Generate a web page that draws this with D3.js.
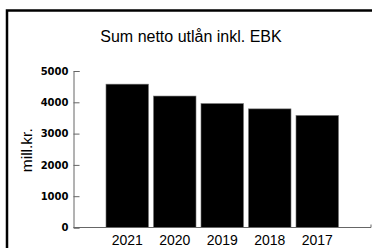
<!DOCTYPE html>
<html>
<head>
<meta charset="utf-8">
<script src="https://cdn.jsdelivr.net/npm/d3@7"></script>
<style>
  body { margin: 0; background: #fff; }
  svg { display: block; }
</style>
</head>
<body>
<div id="chart"></div>
<script>
const years = ["2021", "2020", "2019", "2018", "2017"];
const values = [4580, 4200, 3960, 3790, 3580];
const yTicks = [0, 1000, 2000, 3000, 4000, 5000];
const title = "Sum netto utlån inkl. EBK";
const yLabel = "mill.kr.";

(() => {
    const W = 372, H = 248;
    const plot = { left: 73.5, right: 371, top: 71, bottom: 227.5 };

    const svg = d3.select("#chart")
        .append("svg")
        .attr("width", W)
        .attr("height", H);

    // frame, runs off the right and bottom edges
    svg.append("rect")
        .attr("x", 7)
        .attr("y", 10.5)
        .attr("width", 380)
        .attr("height", 250)
        .attr("fill", "none")
        .attr("stroke", "#000")
        .attr("stroke-width", 2.5);

    svg.append("text")
        .attr("x", 191)
        .attr("y", 42)
        .attr("text-anchor", "middle")
        .style("font-family", "Liberation Sans, Arial, sans-serif")
        .style("font-size", "16px")
        .text(title);

    const x = d3.scaleBand()
        .domain(years)
        .range([101, 343.5])
        .padding(0.105);

    const y = d3.scaleLinear()
        .domain([0, 5000])
        .range([plot.bottom, plot.top]);

    // bars
    svg.append("g")
        .selectAll("rect")
        .data(years.map((d, i) => ({ year: d, value: values[i] })))
        .enter().append("rect")
        .attr("x", d => x(d.year))
        .attr("y", d => y(d.value))
        .attr("width", x.bandwidth())
        .attr("height", d => y(0) - y(d.value))
        .attr("fill", "#000")
        .attr("stroke", "#777")
        .attr("stroke-width", 0.6);

    // y axis, ticks point inward
    const yAxis = svg.append("g")
        .attr("transform", `translate(${plot.left},0)`)
        .call(d3.axisLeft(y)
            .tickValues(yTicks)
            .tickFormat(d3.format("d"))
            .tickSizeInner(-6)
            .tickSizeOuter(-6)
            .tickPadding(5));
    yAxis.select(".domain").attr("stroke", "#666");
    yAxis.selectAll(".tick line").attr("stroke", "#666");
    yAxis.selectAll(".tick text")
        .attr("fill", "#000")
        .style("font-family", "DejaVu Sans, Verdana, sans-serif")
        .style("font-weight", "bold")
        .style("font-size", "10px");

    // x axis line with the small end tick
    svg.append("path")
        .attr("d", `M${plot.left},${plot.bottom}H${plot.right}V${plot.bottom - 3}`)
        .attr("fill", "none")
        .attr("stroke", "#666");

    const xAxis = svg.append("g")
        .attr("transform", `translate(0,${plot.bottom})`)
        .call(d3.axisBottom(x).tickSize(0).tickPadding(8));
    xAxis.select(".domain").remove();
    xAxis.selectAll(".tick text")
        .attr("fill", "#000")
        .style("font-family", "Liberation Sans, Arial, sans-serif")
        .style("font-size", "14px");

    svg.append("text")
        .attr("transform", `translate(32,${(plot.top + plot.bottom) / 2 + 1}) rotate(-90)`)
        .attr("text-anchor", "middle")
        .style("font-family", "Liberation Sans, Arial, sans-serif")
        .style("font-size", "15.5px")
        .text(yLabel);
})();
</script>
</body>
</html>
